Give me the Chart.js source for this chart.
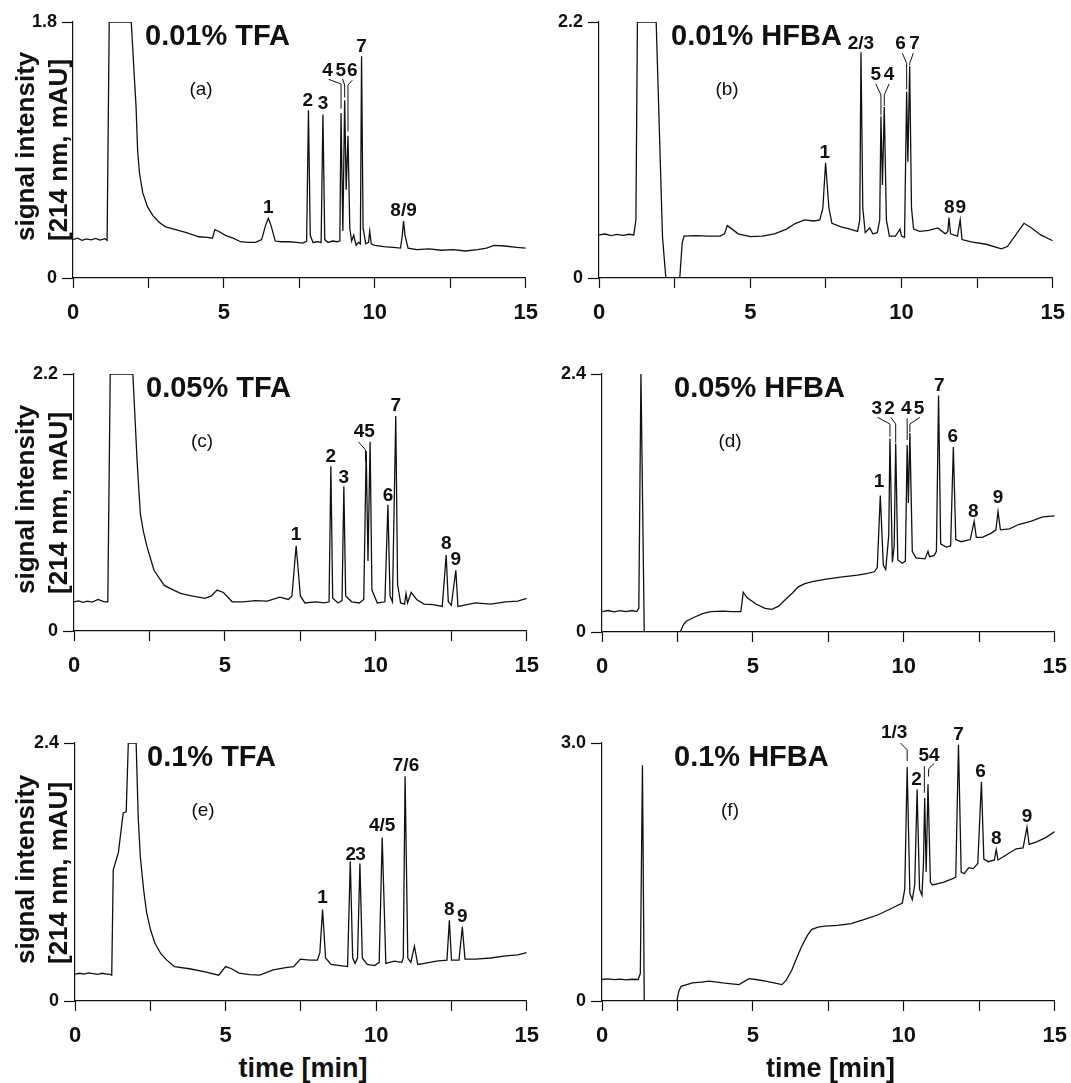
<!DOCTYPE html>
<html>
<head>
<meta charset="utf-8">
<title>HPLC chromatograms</title>
<script src="https://cdn.jsdelivr.net/npm/chart.js@4.4.1/dist/chart.umd.min.js"></script>
<style>
  body { margin: 0; background: #fff; }
  #page { position: relative; width: 1071px; height: 1083px; overflow: hidden;
          font-family: "Liberation Sans", Arial, Helvetica, sans-serif; color: #111; }
  .panel { position: absolute; }
  .ytitle { position: absolute; left: 9px; transform-origin: 0 0; transform: rotate(-90deg);
            font-weight: bold; font-size: 26px; line-height: 33px; white-space: nowrap; }
  .xtitle { position: absolute; width: 300px; text-align: center; font-weight: bold;
            font-size: 27px; line-height: 32px; white-space: nowrap; }
</style>
</head>
<body>
<div id="page"></div>
<script>
const FONT = '"Liberation Sans", Arial, Helvetica, sans-serif';

// (a) 0.01% TFA
const aTime = [0, 0.15, 0.3, 0.45, 0.6, 0.75, 0.9, 1.05, 1.13, 1.2, 1.93, 2.03, 2.09, 2.14, 2.2, 2.31, 2.47, 2.64, 2.86, 3.07, 3.4, 3.73, 4.17, 4.45, 4.62, 4.7, 4.85, 5.05, 5.3, 5.55, 5.8, 6.05, 6.25, 6.38, 6.47, 6.56, 6.7, 6.9, 7.15, 7.4, 7.62, 7.74, 7.8, 7.86, 7.95, 8.1, 8.22, 8.28, 8.34, 8.45, 8.6, 8.75, 8.84, 8.88, 8.94, 9.0, 9.05, 9.11, 9.17, 9.23, 9.3, 9.38, 9.46, 9.52, 9.56, 9.61, 9.7, 9.79, 9.83, 9.88, 10.0, 10.3, 10.6, 10.85, 10.91, 10.95, 11.0, 11.1, 11.4, 11.8, 12.2, 12.6, 13.0, 13.4, 13.7, 13.95, 14.3, 14.7, 15.0];
const aSignal = [0.27, 0.28, 0.265, 0.275, 0.268, 0.278, 0.266, 0.276, 0.265, 1.8, 1.8, 1.42, 1.2, 0.9, 0.74, 0.6, 0.5, 0.44, 0.39, 0.36, 0.34, 0.32, 0.29, 0.285, 0.28, 0.34, 0.325, 0.3, 0.28, 0.255, 0.25, 0.25, 0.27, 0.37, 0.42, 0.37, 0.26, 0.255, 0.255, 0.25, 0.245, 0.26, 1.18, 0.3, 0.25, 0.255, 0.25, 1.15, 0.27, 0.25, 0.26, 0.255, 0.26, 1.16, 0.33, 1.25, 0.62, 1.0, 0.35, 0.26, 0.3, 0.23, 0.25, 0.24, 1.56, 0.35, 0.24, 0.25, 0.33, 0.24, 0.23, 0.22, 0.215, 0.21, 0.3, 0.4, 0.3, 0.21, 0.2, 0.205, 0.195, 0.2, 0.19, 0.2, 0.21, 0.23, 0.225, 0.215, 0.21];
const aPeakText = ['1', '2', '3', '4', '5', '6', '7', '8/9'];
const aPeakTime = [6.47, 7.78, 8.28, 8.43, 8.87, 9.25, 9.56, 10.95];
const aPeakLevel = [0.457, 1.21, 1.19, 1.42, 1.42, 1.42, 1.59, 0.436];
const aLeaders = [
  [[8.47, 1.397], [8.88, 1.364], [8.88, 1.19]],
  [[8.93, 1.4], [9.0, 1.357], [9.0, 1.27]],
  [[9.25, 1.39], [9.11, 1.357], [9.11, 1.03]],
];

// (b) 0.01% HFBA
const bTime = [0, 0.2, 0.4, 0.6, 0.8, 1.0, 1.15, 1.22, 1.27, 1.89, 2.1, 2.21, 2.4, 2.67, 2.75, 2.81, 3.2, 3.6, 4.0, 4.15, 4.24, 4.4, 4.6, 5.0, 5.4, 5.8, 6.2, 6.5, 6.8, 7.1, 7.3, 7.4, 7.49, 7.6, 7.7, 8.0, 8.3, 8.55, 8.62, 8.66, 8.72, 8.8, 8.95, 9.05, 9.2, 9.28, 9.32, 9.37, 9.43, 9.5, 9.6, 9.8, 9.95, 10.0, 10.1, 10.17, 10.21, 10.27, 10.33, 10.4, 10.6, 10.9, 11.2, 11.45, 11.53, 11.57, 11.62, 11.85, 11.94, 12.0, 12.3, 12.8, 13.3, 13.5, 13.8, 14.05, 14.3, 14.6, 15.0];
const bSignal = [0.37, 0.378, 0.365, 0.374, 0.366, 0.376, 0.37, 0.5, 2.2, 2.2, 0.35, 0, null, 0, 0.3, 0.36, 0.365, 0.36, 0.36, 0.38, 0.45, 0.42, 0.38, 0.355, 0.36, 0.38, 0.42, 0.47, 0.5, 0.49, 0.5, 0.6, 0.99, 0.6, 0.47, 0.44, 0.42, 0.4, 0.5, 1.94, 0.6, 0.39, 0.43, 0.38, 0.39, 0.5, 1.39, 0.8, 1.47, 0.5, 0.36, 0.36, 0.42, 0.36, 0.35, 1.6, 1.0, 1.82, 0.6, 0.42, 0.4, 0.41, 0.43, 0.38, 0.4, 0.52, 0.38, 0.36, 0.5, 0.33, 0.31, 0.29, 0.25, 0.27, 0.38, 0.47, 0.43, 0.37, 0.32];
const bPeakText = ['1', '2/3', '5', '4', '6', '7', '8', '9'];
const bPeakTime = [7.46, 8.66, 9.15, 9.59, 9.97, 10.43, 11.58, 11.96];
const bPeakLevel = [1.03, 1.97, 1.7, 1.7, 1.97, 1.97, 0.558, 0.558];
const bLeaders = [
  [[9.15, 1.668], [9.32, 1.573], [9.32, 1.4]],
  [[9.59, 1.668], [9.43, 1.573], [9.43, 1.48]],
  [[10.03, 1.931], [10.17, 1.845], [10.17, 1.62]],
  [[10.39, 1.931], [10.27, 1.845], [10.27, 1.83]],
];

// (c) 0.05% TFA
const cTime = [0, 0.15, 0.3, 0.45, 0.6, 0.8, 1.0, 1.12, 1.2, 1.95, 2.09, 2.15, 2.2, 2.3, 2.42, 2.65, 2.99, 3.3, 3.55, 3.9, 4.34, 4.55, 4.74, 4.95, 5.24, 5.6, 6.0, 6.4, 6.82, 7.1, 7.22, 7.36, 7.5, 7.65, 8.0, 8.3, 8.45, 8.51, 8.57, 8.75, 8.88, 8.94, 9.0, 9.2, 9.45, 9.6, 9.68, 9.74, 9.81, 9.87, 10.05, 10.3, 10.4, 10.47, 10.55, 10.66, 10.72, 10.82, 10.95, 11.0, 11.05, 11.17, 11.35, 11.6, 11.9, 12.2, 12.33, 12.4, 12.5, 12.65, 12.72, 12.9, 13.3, 13.8, 14.3, 14.7, 15.0];
const cSignal = [0.25, 0.258, 0.245, 0.255, 0.248, 0.27, 0.25, 0.25, 2.2, 2.2, 1.46, 1.2, 1.0, 0.85, 0.72, 0.52, 0.39, 0.35, 0.32, 0.3, 0.28, 0.3, 0.35, 0.33, 0.25, 0.25, 0.26, 0.255, 0.29, 0.27, 0.3, 0.73, 0.3, 0.24, 0.25, 0.24, 0.25, 1.41, 0.28, 0.24, 0.26, 1.24, 0.3, 0.25, 0.24, 0.27, 1.54, 0.6, 1.62, 0.35, 0.24, 0.25, 1.08, 0.3, 0.25, 1.84, 0.4, 0.24, 0.23, 0.32, 0.24, 0.33, 0.27, 0.23, 0.225, 0.21, 0.65, 0.25, 0.22, 0.52, 0.21, 0.22, 0.24, 0.23, 0.25, 0.255, 0.28];
const cPeakText = ['1', '2', '3', '4', '5', '6', '7', '8', '9'];
const cPeakTime = [7.36, 8.51, 8.94, 9.44, 9.79, 10.4, 10.66, 12.33, 12.65];
const cPeakLevel = [0.78, 1.45, 1.27, 1.66, 1.66, 1.115, 1.886, 0.7, 0.565];
const cLeaders = [
  [[9.42, 1.62], [9.66, 1.55], [9.66, 1.45]],
];

// (d) 0.05% HFBA
const dTime = [0, 0.2, 0.4, 0.6, 0.8, 1.0, 1.15, 1.22, 1.29, 1.4, 2.0, 2.59, 2.7, 2.79, 3.0, 3.33, 3.6, 4.0, 4.3, 4.6, 4.68, 4.8, 5.1, 5.4, 5.63, 5.85, 6.07, 6.3, 6.5, 6.72, 7.0, 7.38, 7.9, 8.47, 8.8, 9.02, 9.12, 9.22, 9.32, 9.4, 9.5, 9.54, 9.62, 9.68, 9.73, 9.8, 9.95, 10.05, 10.11, 10.15, 10.2, 10.28, 10.4, 10.7, 10.8, 10.85, 11.0, 11.08, 11.15, 11.22, 11.4, 11.55, 11.64, 11.72, 11.9, 12.2, 12.33, 12.4, 12.6, 12.9, 13.05, 13.12, 13.2, 13.5, 13.8, 14.2, 14.6, 15.0];
const dSignal = [0.19, 0.2, 0.188, 0.198, 0.19, 0.2, 0.19, 0.22, 2.4, 0, null, 0, 0.07, 0.1, 0.13, 0.17, 0.19, 0.195, 0.19, 0.19, 0.37, 0.32, 0.26, 0.22, 0.21, 0.24, 0.3, 0.36, 0.42, 0.45, 0.47, 0.49, 0.51, 0.53, 0.545, 0.56, 0.6, 1.27, 0.62, 0.58, 0.9, 1.8, 0.65, 0.8, 1.75, 0.67, 0.64, 0.66, 1.74, 1.2, 1.85, 0.75, 0.69, 0.68, 0.75, 0.7, 0.71, 0.75, 2.2, 0.82, 0.79, 0.8, 1.72, 0.86, 0.84, 0.86, 1.03, 0.88, 0.88, 0.92, 0.95, 1.12, 0.95, 0.96, 1.0, 1.03, 1.07, 1.08];
const dPeakText = ['1', '3', '2', '4', '5', '7', '6', '8', '9'];
const dPeakTime = [9.18, 9.1, 9.53, 10.08, 10.5, 11.17, 11.62, 12.3, 13.12];
const dPeakLevel = [1.352, 2.03, 2.03, 2.03, 2.03, 2.245, 1.77, 1.073, 1.197];
const dLeaders = [
  [[9.13, 1.997], [9.54, 1.935], [9.54, 1.817]],
  [[9.57, 1.997], [9.73, 1.935], [9.73, 1.76]],
  [[10.11, 1.988], [10.11, 1.786]],
  [[10.53, 1.997], [10.2, 1.935], [10.2, 1.86]],
];

// (e) 0.1% TFA
const eTime = [0, 0.15, 0.3, 0.45, 0.6, 0.75, 0.9, 1.05, 1.15, 1.22, 1.27, 1.44, 1.6, 1.7, 1.77, 2.03, 2.1, 2.17, 2.28, 2.38, 2.51, 2.65, 2.85, 3.05, 3.3, 3.8, 4.32, 4.77, 5.0, 5.2, 5.45, 5.8, 6.13, 6.58, 7.0, 7.26, 7.48, 7.8, 8.05, 8.13, 8.22, 8.32, 8.5, 8.8, 9.05, 9.14, 9.22, 9.3, 9.38, 9.46, 9.54, 9.7, 9.95, 10.1, 10.2, 10.32, 10.6, 10.85, 10.9, 10.96, 11.05, 11.15, 11.27, 11.38, 11.6, 12.0, 12.35, 12.43, 12.5, 12.75, 12.86, 12.95, 13.3, 13.8, 14.3, 14.7, 15.0];
const eSignal = [0.25, 0.258, 0.25, 0.262, 0.255, 0.248, 0.258, 0.25, 0.25, 0.24, 1.22, 1.38, 1.75, 1.76, 2.4, 2.4, 1.7, 1.34, 1.03, 0.82, 0.66, 0.54, 0.44, 0.38, 0.32, 0.3, 0.27, 0.24, 0.32, 0.3, 0.26, 0.245, 0.24, 0.29, 0.31, 0.32, 0.39, 0.38, 0.38, 0.45, 0.85, 0.4, 0.34, 0.33, 0.32, 1.3, 0.4, 0.35, 0.4, 1.28, 0.4, 0.34, 0.33, 0.36, 1.52, 0.35, 0.37, 0.36, 0.4, 2.09, 0.4, 0.36, 0.51, 0.34, 0.35, 0.37, 0.38, 0.75, 0.38, 0.38, 0.69, 0.39, 0.39, 0.4, 0.42, 0.43, 0.45];
const ePeakText = ['1', '2', '3', '4/5', '7/6', '8', '9'];
const ePeakTime = [8.22, 9.16, 9.48, 10.2, 10.99, 12.43, 12.86];
const ePeakLevel = [0.91, 1.313, 1.313, 1.577, 2.136, 0.8, 0.739];
const eLeaders = [];

// (f) 0.1% HFBA
const fTime = [0, 0.2, 0.4, 0.6, 0.8, 1.0, 1.2, 1.27, 1.34, 1.4, 2.0, 2.48, 2.55, 2.62, 3.0, 3.3, 3.55, 4.0, 4.3, 4.54, 4.87, 5.1, 5.41, 5.7, 5.96, 6.1, 6.29, 6.45, 6.61, 6.8, 6.94, 7.15, 7.38, 7.8, 8.25, 8.7, 9.13, 9.55, 9.95, 10.03, 10.11, 10.2, 10.28, 10.36, 10.44, 10.52, 10.6, 10.65, 10.69, 10.74, 10.8, 10.88, 10.95, 11.3, 11.6, 11.72, 11.81, 11.9, 12.0, 12.15, 12.3, 12.45, 12.57, 12.65, 12.8, 13.0, 13.06, 13.12, 13.4, 13.72, 13.95, 14.08, 14.15, 14.4, 14.7, 15.0];
const fSignal = [0.25, 0.258, 0.248, 0.255, 0.245, 0.253, 0.25, 0.32, 2.74, 0, null, 0, 0.12, 0.17, 0.21, 0.22, 0.23, 0.21, 0.2, 0.19, 0.26, 0.25, 0.23, 0.21, 0.19, 0.24, 0.36, 0.5, 0.63, 0.76, 0.83, 0.86, 0.87, 0.88, 0.9, 0.95, 1.0, 1.07, 1.14, 1.3, 2.72, 1.25, 1.18, 1.35, 2.46, 1.3, 1.23, 1.6, 2.36, 1.5, 2.52, 1.38, 1.35, 1.38, 1.42, 1.44, 2.98, 1.5, 1.48, 1.55, 1.54, 1.6, 2.55, 1.65, 1.62, 1.64, 1.76, 1.64, 1.7, 1.77, 1.78, 2.02, 1.82, 1.85, 1.9, 1.97];
const fPeakText = ['1/3', '2', '5', '4', '7', '6', '8', '9'];
const fPeakTime = [9.68, 10.42, 10.66, 11.01, 11.81, 12.54, 13.06, 14.08];
const fPeakLevel = [3.06, 2.515, 2.787, 2.787, 3.03, 2.6, 1.824, 2.076];
const fLeaders = [
  [[9.89, 3.0], [10.11, 2.92], [10.11, 2.79]],
  [[10.68, 2.73], [10.68, 2.42]],
  [[11.0, 2.76], [10.82, 2.7], [10.82, 2.61]],
];

const panels = [
  { time: aTime, signal: aSignal, max: 1.8, title: '0.01% TFA', tag: '(a)', text: aPeakText, at: aPeakTime, level: aPeakLevel, leaders: aLeaders, box: { x0: 73, x15: 530, top: 22, bot: 278 }, yTitle: true },
  { time: bTime, signal: bSignal, max: 2.2, title: '0.01% HFBA', tag: '(b)', text: bPeakText, at: bPeakTime, level: bPeakLevel, leaders: bLeaders, box: { x0: 599, x15: 1057, top: 22, bot: 278 } },
  { time: cTime, signal: cSignal, max: 2.2, title: '0.05% TFA', tag: '(c)', text: cPeakText, at: cPeakTime, level: cPeakLevel, leaders: cLeaders, box: { x0: 74, x15: 531, top: 374, bot: 631 }, yTitle: true },
  { time: dTime, signal: dSignal, max: 2.4, title: '0.05% HFBA', tag: '(d)', text: dPeakText, at: dPeakTime, level: dPeakLevel, leaders: dLeaders, box: { x0: 602, x15: 1059, top: 374, bot: 632 } },
  { time: eTime, signal: eSignal, max: 2.4, title: '0.1% TFA', tag: '(e)', text: ePeakText, at: ePeakTime, level: ePeakLevel, leaders: eLeaders, box: { x0: 75, x15: 531, top: 743, bot: 1001 }, yTitle: true, xTitle: true },
  { time: fTime, signal: fSignal, max: 3.0, title: '0.1% HFBA', tag: '(f)', text: fPeakText, at: fPeakTime, level: fPeakLevel, leaders: fLeaders, box: { x0: 602, x15: 1059, top: 743, bot: 1001 }, xTitle: true },
];

const PAD_LEFT = 72;
const PAD_TOP = 22;
const PAD_RIGHT = 20;
const PAD_BOTTOM = 50;
const INK = '#111';

function labelPlugin(panel) {
  return {
    id: 'peakLabels',
    afterDatasetsDraw(chart) {
      const { ctx, chartArea, scales } = chart;
      ctx.save();
      ctx.fillStyle = INK;
      ctx.strokeStyle = INK;
      ctx.lineWidth = 1;

      ctx.font = `bold 29px ${FONT}`;
      ctx.textAlign = 'left';
      ctx.textBaseline = 'middle';
      ctx.fillText(panel.title, chartArea.left + 72, chartArea.top + 15);

      ctx.font = `19px ${FONT}`;
      ctx.textAlign = 'center';
      ctx.fillText(panel.tag, chartArea.left + 128, chartArea.top + 68);

      ctx.font = `bold 19px ${FONT}`;
      ctx.textBaseline = 'alphabetic';
      panel.text.forEach((t, i) => {
        ctx.fillText(t, scales.x.getPixelForValue(panel.at[i]), scales.y.getPixelForValue(panel.level[i]));
      });

      panel.leaders.forEach((path) => {
        ctx.beginPath();
        path.forEach(([t, v], j) => {
          const px = scales.x.getPixelForValue(t);
          const py = scales.y.getPixelForValue(v);
          if (j === 0) ctx.moveTo(px, py);
          else ctx.lineTo(px, py);
        });
        ctx.stroke();
      });
      ctx.restore();
    },
  };
}

const page = document.getElementById('page');

panels.forEach((panel) => {
  const { x0, x15, top, bot } = panel.box;
  const holder = document.createElement('div');
  holder.className = 'panel';
  holder.style.left = (x0 - PAD_LEFT) + 'px';
  holder.style.top = (top - PAD_TOP) + 'px';
  holder.style.width = (x15 - x0 + PAD_LEFT + PAD_RIGHT) + 'px';
  holder.style.height = (bot - top + PAD_TOP + PAD_BOTTOM) + 'px';
  const canvas = document.createElement('canvas');
  holder.appendChild(canvas);
  page.appendChild(holder);

  new Chart(canvas, {
    type: 'line',
    data: {
      datasets: [
        {
          data: panel.time.map((t, i) => ({ x: t, y: panel.signal[i] })),
          borderColor: INK,
          borderWidth: 1.3,
          pointRadius: 0,
          tension: 0,
          spanGaps: false,
        },
      ],
    },
    options: {
      responsive: true,
      maintainAspectRatio: false,
      animation: false,
      events: [],
      layout: { padding: { top: PAD_TOP, right: PAD_RIGHT, left: 0, bottom: 0 } },
      plugins: { legend: { display: false }, tooltip: { enabled: false } },
      scales: {
        x: {
          type: 'linear',
          min: 0,
          max: 15,
          afterFit: (s) => { s.height = PAD_BOTTOM; },
          grid: { display: true, drawOnChartArea: false, drawTicks: true, tickLength: 10, tickColor: INK, tickWidth: 1.2 },
          border: { display: true, color: INK, width: 1.2 },
          ticks: {
            stepSize: 2.5,
            autoSkip: false,
            maxRotation: 0,
            padding: 12,
            color: INK,
            font: { family: FONT, size: 22, weight: 'bold' },
            callback: (v) => (v % 5 === 0 ? String(v) : ''),
          },
        },
        y: {
          min: 0,
          max: panel.max,
          afterBuildTicks: (s) => { s.ticks = [{ value: 0 }, { value: panel.max }]; },
          afterFit: (s) => { s.width = PAD_LEFT; },
          grid: { display: true, drawOnChartArea: false, drawTicks: true, tickLength: 11, tickColor: INK, tickWidth: 1.2 },
          border: { display: true, color: INK, width: 1.2 },
          ticks: {
            padding: 5,
            color: INK,
            font: { family: FONT, size: 18, weight: 'bold' },
            callback: (v) => (v === 0 ? '0' : Number(v).toFixed(1)),
          },
        },
      },
    },
    plugins: [labelPlugin(panel)],
  });

  if (panel.yTitle) {
    const yt = document.createElement('div');
    yt.className = 'ytitle';
    yt.style.top = (bot - 37) + 'px';
    yt.innerHTML = 'signal intensity<br>[214 nm, mAU]';
    page.appendChild(yt);
  }
  if (panel.xTitle) {
    const xt = document.createElement('div');
    xt.className = 'xtitle';
    xt.style.left = ((x0 + x15) / 2 - 150) + 'px';
    xt.style.top = '1052px';
    xt.textContent = 'time [min]';
    page.appendChild(xt);
  }
});
</script>
</body>
</html>
